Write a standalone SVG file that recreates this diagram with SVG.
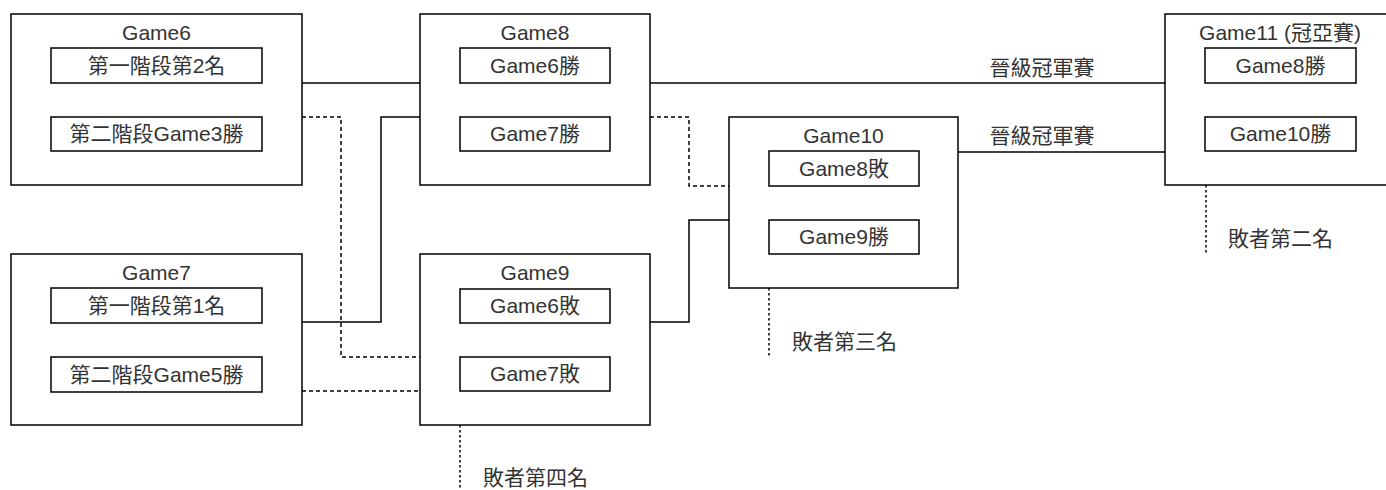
<svg xmlns="http://www.w3.org/2000/svg" width="1386" height="490" viewBox="0 0 1386 490">
<style>
text{font-family:"Liberation Sans","Noto Sans CJK TC",sans-serif;font-size:21px;fill:#333333}
.c{text-anchor:middle}
.box{fill:#ffffff;stroke:#000000;stroke-width:1.5}
.ln{fill:none;stroke:#000000;stroke-width:1.5}
.dash{fill:none;stroke:#000000;stroke-width:1.5;stroke-dasharray:4 3}
.dot{fill:none;stroke:#000000;stroke-width:1.5;stroke-dasharray:2.5 2.5}
</style>
<rect width="1386" height="490" fill="#ffffff"/>
<g id="connectors">
<path class="ln" d="M302 83H420"/>
<path class="ln" d="M302 322H381V117H420"/>
<path class="dash" d="M302 117H341V357H420"/>
<path class="dash" d="M302 391H420"/>
<path class="ln" d="M650 83H1165"/>
<text class="c" x="1042" y="75">晉級冠軍賽</text>
<path class="dash" d="M650 117H689V186H729"/>
<path class="ln" d="M650 322H689V220H729"/>
<path class="ln" d="M958 152H1165"/>
<text class="c" x="1042" y="143">晉級冠軍賽</text>
<path class="dot" d="M1206 185V255"/>
<text x="1228" y="246">敗者第二名</text>
<path class="dot" d="M769 288V357"/>
<text x="792" y="349">敗者第三名</text>
<path class="dot" d="M460 425V490"/>
<text x="483" y="485">敗者第四名</text>
</g>
<g id="game6">
<rect class="box" x="11" y="14" width="291" height="171"/>
<text class="c" x="156.5" y="40">Game6</text>
<rect class="box" x="51" y="48" width="211" height="35"/>
<text class="c" x="156.5" y="73">第一階段第2名</text>
<rect class="box" x="51" y="117" width="211" height="34"/>
<text class="c" x="156.5" y="141">第二階段Game3勝</text>
</g>
<g id="game7">
<rect class="box" x="11" y="254" width="291" height="171"/>
<text class="c" x="156.5" y="280">Game7</text>
<rect class="box" x="51" y="288" width="211" height="35"/>
<text class="c" x="156.5" y="313">第一階段第1名</text>
<rect class="box" x="51" y="357" width="211" height="35"/>
<text class="c" x="156.5" y="382">第二階段Game5勝</text>
</g>
<g id="game8">
<rect class="box" x="420" y="14" width="230" height="171"/>
<text class="c" x="535" y="40">Game8</text>
<rect class="box" x="460" y="48" width="150" height="35"/>
<text class="c" x="535" y="73">Game6勝</text>
<rect class="box" x="460" y="117" width="150" height="34"/>
<text class="c" x="535" y="141">Game7勝</text>
</g>
<g id="game9">
<rect class="box" x="420" y="254" width="230" height="171"/>
<text class="c" x="535" y="280">Game9</text>
<rect class="box" x="460" y="289" width="150" height="34"/>
<text class="c" x="535" y="313">Game6敗</text>
<rect class="box" x="460" y="357" width="150" height="34"/>
<text class="c" x="535" y="381">Game7敗</text>
</g>
<g id="game10">
<rect class="box" x="729" y="117" width="229" height="171"/>
<text class="c" x="843.5" y="143">Game10</text>
<rect class="box" x="769" y="151" width="150" height="35"/>
<text class="c" x="844" y="176">Game8敗</text>
<rect class="box" x="769" y="220" width="150" height="34"/>
<text class="c" x="844" y="244">Game9勝</text>
</g>
<g id="game11">
<rect class="box" x="1165" y="14" width="230" height="171"/>
<text class="c" x="1280" y="40">Game11 (冠亞賽)</text>
<rect class="box" x="1205" y="48" width="151" height="35"/>
<text class="c" x="1280.5" y="73">Game8勝</text>
<rect class="box" x="1205" y="117" width="151" height="34"/>
<text class="c" x="1280.5" y="141">Game10勝</text>
</g>
</svg>
